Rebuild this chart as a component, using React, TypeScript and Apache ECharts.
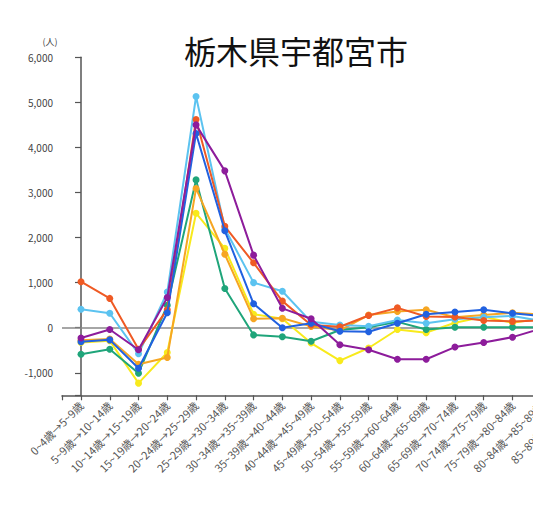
import React, { useEffect, useRef } from "react";
import * as echarts from "echarts";

const categories = [
  "0~4歳→5~9歳", "5~9歳→10~14歳", "10~14歳→15~19歳", "15~19歳→20~24歳",
  "20~24歳→25~29歳", "25~29歳→30~34歳", "30~34歳→35~39歳", "35~39歳→40~44歳",
  "40~44歳→45~49歳", "45~49歳→50~54歳", "50~54歳→55~59歳", "55~59歳→60~64歳",
  "60~64歳→65~69歳", "65~69歳→70~74歳", "70~74歳→75~79歳", "75~79歳→80~84歳",
  "80~84歳→85~89歳", "85~89歳→90歳~",
];

const yellowValues = [-330, -290, -1230, -550, 2540, 1760, 300, 200, -340, -730, -450, -40, -110, 110, 240, 110, 200, 150];
const greenValues = [-590, -480, -1010, 500, 3280, 870, -160, -200, -300, -50, 10, 130, -40, 10, 10, 10, 10, 0];
const orangeValues = [-280, -250, -810, -660, 3090, 1630, 200, 210, 30, -60, 280, 360, 400, 230, 280, 330, 290, 200];
const lightBlueValues = [410, 320, -580, 790, 5130, 2200, 1000, 810, 130, 60, 30, 170, 100, 190, 230, 260, 150, 100];
const redValues = [1020, 650, -480, 400, 4620, 2250, 1440, 590, 60, 20, 270, 440, 250, 240, 160, 140, 160, 120];
const blueValues = [-310, -270, -900, 330, 4310, 2150, 530, 0, 100, -80, -90, 100, 300, 350, 400, 320, 260, 200];
const purpleValues = [-230, -40, -490, 670, 4500, 3480, 1610, 430, 200, -380, -490, -700, -700, -430, -330, -210, -20, 50];

const seriesDefs = [
  { name: "yellow", color: "#F8EA1C", values: yellowValues },
  { name: "green", color: "#1FA57A", values: greenValues },
  { name: "orange", color: "#F6A623", values: orangeValues },
  { name: "lightblue", color: "#5CC3F0", values: lightBlueValues },
  { name: "red", color: "#EF5A24", values: redValues },
  { name: "blue", color: "#2161E0", values: blueValues },
  { name: "purple", color: "#8D1C9B", values: purpleValues },
];

const yLabelValues = [-1000, 0, 1000, 2000, 3000, 4000, 5000, 6000];
const yTickValues = [-1500, ...yLabelValues];

export default function App() {
  const ref = useRef<HTMLDivElement>(null);
  useEffect(() => {
    if (!ref.current) return;
    const chart = echarts.init(ref.current, null, { renderer: "svg" });
    const idx = categories.map((_, i) => i);
    const font = "'Noto Sans CJK JP', 'Noto Sans', sans-serif";
    chart.setOption({
      animation: false,
      backgroundColor: "#ffffff",
      grid: { left: 62, right: 11, top: 57.3, bottom: 124.7, containLabel: false },
      graphic: [
        {
          type: "text",
          x: 296,
          y: 50,
          style: {
            text: "栃木県宇都宮市",
            fontSize: 32,
            fontFamily: font,
            fill: "#111111",
            textAlign: "center",
            textVerticalAlign: "middle",
          },
        },
        {
          type: "text",
          x: 50,
          y: 41,
          style: {
            text: "(人)",
            fontSize: 9,
            fontFamily: font,
            fill: "#444444",
            textAlign: "center",
            textVerticalAlign: "middle",
          },
        },
      ],
      xAxis: {
        type: "value",
        min: -0.66,
        max: 17.66,
        splitLine: { show: false },
        axisLine: { show: true, onZero: false, lineStyle: { color: "#555555", width: 1.5 } },
        axisTick: {
          show: true,
          length: 5,
          customValues: [-0.66, ...idx],
          lineStyle: { color: "#555555", width: 1.2 },
        },
        axisLabel: {
          customValues: idx,
          rotate: 45,
          margin: 8,
          fontSize: 11,
          fontFamily: font,
          color: "#555555",
          formatter: (v: number) => categories[Math.round(v)] ?? "",
        },
      },
      yAxis: {
        type: "value",
        min: -1500,
        max: 6000,
        splitLine: { show: false },
        axisLine: { show: true, lineStyle: { color: "#555555", width: 1.5 } },
        axisTick: {
          show: true,
          length: 6,
          customValues: yTickValues,
          lineStyle: { color: "#555555", width: 1.2 },
        },
        axisLabel: {
          customValues: yLabelValues,
          margin: 9,
          fontSize: 10,
          fontFamily: font,
          color: "#444444",
          formatter: (v: number) => v.toLocaleString("en-US"),
        },
      },
      series: seriesDefs.map((s, k) => ({
        type: "line",
        name: s.name,
        data: s.values.map((v, i) => [i, v]),
        symbol: "circle",
        symbolSize: 7,
        lineStyle: { color: s.color, width: 2 },
        itemStyle: { color: s.color },
        z: 3 + k,
        markLine:
          k === 0
            ? {
                silent: true,
                symbol: "none",
                label: { show: false },
                lineStyle: { color: "#888888", width: 1.5, type: "solid" },
                data: [{ yAxis: 0 }],
                z: 1,
              }
            : undefined,
      })),
    });
    return () => chart.dispose();
  }, []);
  return (
    <div
      style={{
        position: "fixed",
        left: 0,
        top: 0,
        width: 533,
        height: 520,
        overflow: "hidden",
        background: "#fff",
      }}
    >
      <div ref={ref} style={{ width: 600, height: 520 }} />
    </div>
  );
}
